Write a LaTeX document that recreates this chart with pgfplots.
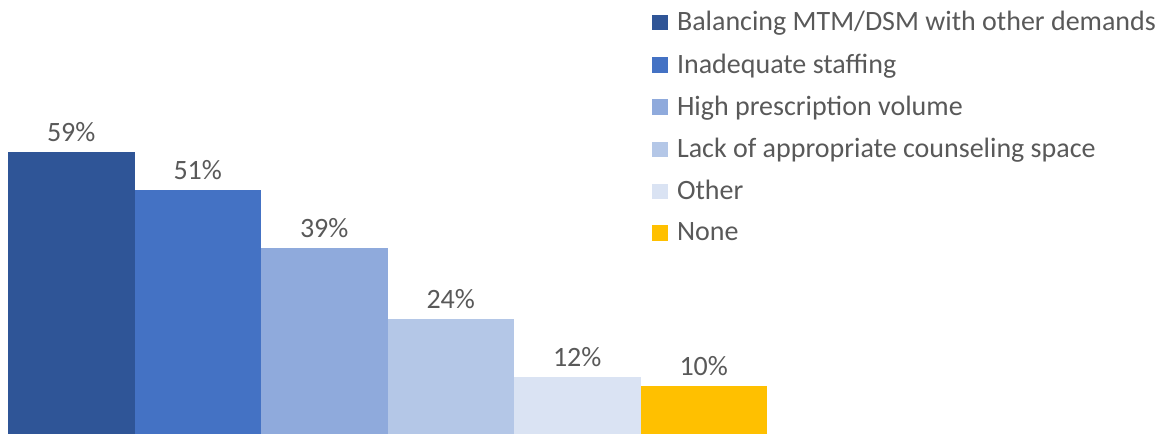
\documentclass[border=0pt]{standalone}
\usepackage{pgfplots}
\pgfplotsset{compat=1.18}
\usepackage{fontspec}
\setmainfont{Carlito}
\definecolor{c1}{HTML}{2F5597}
\definecolor{c2}{HTML}{4472C4}
\definecolor{c3}{HTML}{8FAADC}
\definecolor{c4}{HTML}{B4C7E7}
\definecolor{c5}{HTML}{DAE3F3}
\definecolor{c6}{HTML}{FFC000}
\definecolor{txt}{HTML}{595959}
\begin{document}
\begin{tikzpicture}
\useasboundingbox (-4pt,0pt) rectangle (576.5pt,217pt);
\begin{axis}[
  scale only axis,
  width=379.5pt, height=217pt,
  xmin=-0.5, xmax=5.5, ymin=0, ymax=90.8,
  axis lines=none,
  ticks=none,
  ybar, bar width=1, bar shift=0pt,
  clip=false,
  /pgf/number format/assume math mode=true,
  nodes near coords={\pgfmathprintnumber{\pgfplotspointmeta}\%},
  nodes near coords style={font=\fontsize{14}{16}\selectfont, text=txt, yshift=1.5pt},
  every axis plot/.append style={draw=none},
  legend style={at={(rel axis cs:0.848,1.0)}, yshift=-3.5pt, anchor=north west, draw=none, fill=none,
    font=\fontsize{14}{16}\selectfont, text=txt, row sep=5.9pt, inner sep=0pt},
  legend cell align=left,
  legend image code/.code={\fill[#1] (0pt,-3.9pt) rectangle (7.8pt,3.9pt); \path (10.5pt,0pt);},
]
\addplot[fill=c1] coordinates {(0,59)};
\addplot[fill=c2] coordinates {(1,51)};
\addplot[fill=c3] coordinates {(2,39)};
\addplot[fill=c4] coordinates {(3,24)};
\addplot[fill=c5] coordinates {(4,12)};
\addplot[fill=c6] coordinates {(5,10)};
\legend{Balancing MTM/DSM with other demands, Inadequate staffing, High prescription volume, Lack of appropriate counseling space, Other, None}
\end{axis}
\end{tikzpicture}
\end{document}
